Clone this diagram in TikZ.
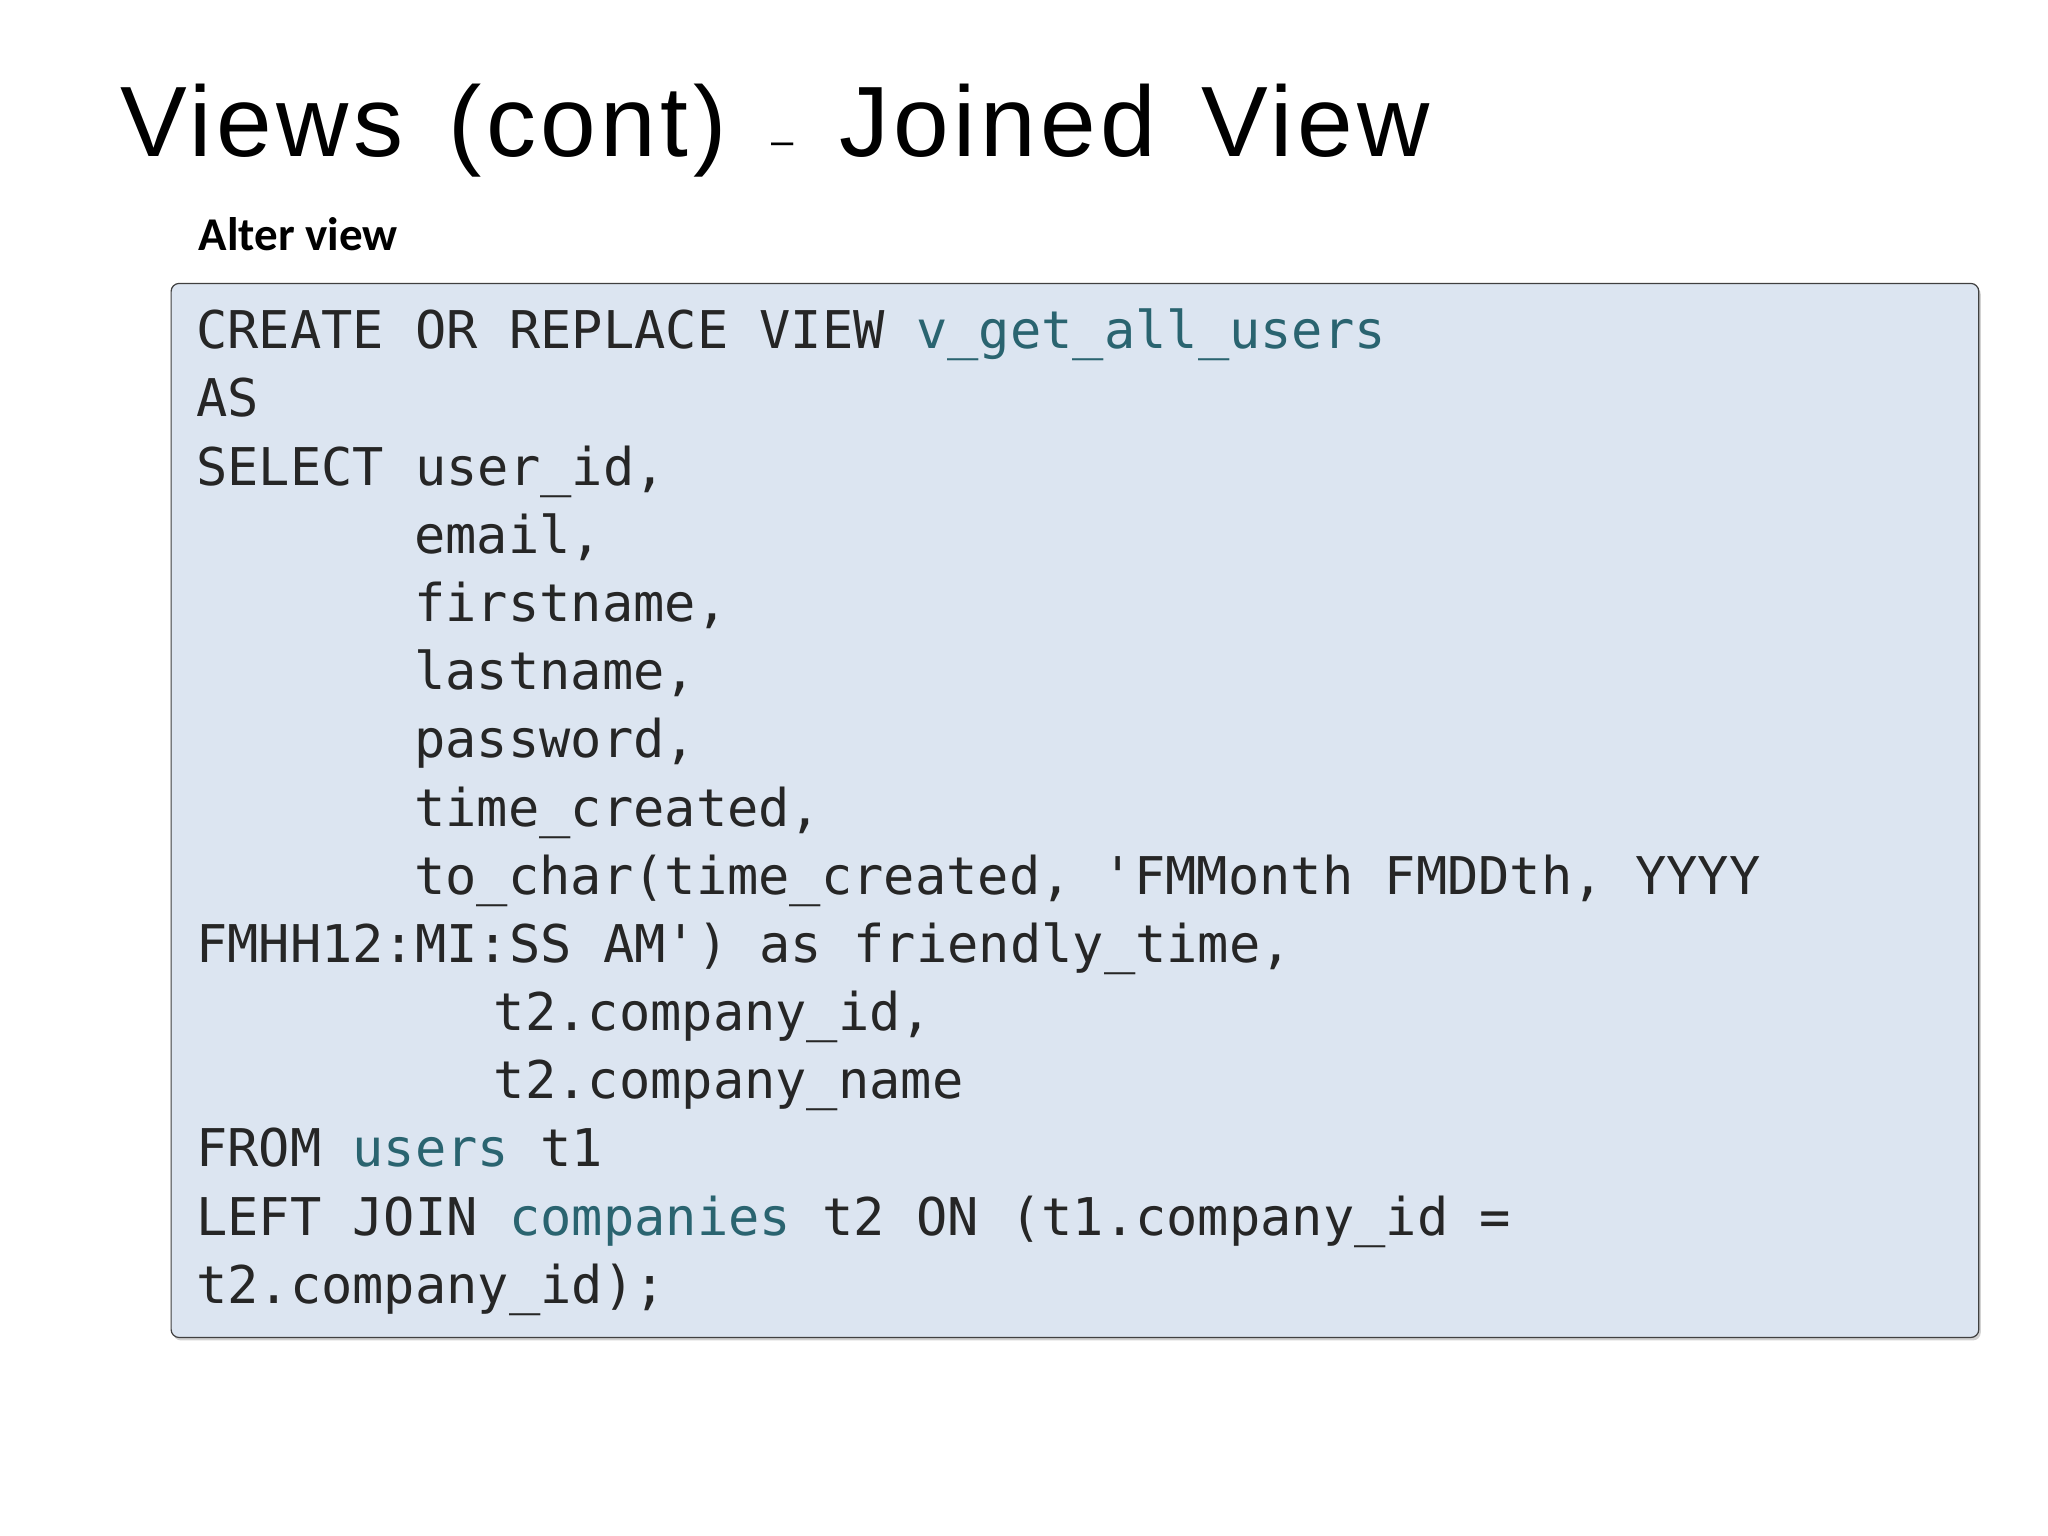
\documentclass[tikz,border=0pt]{standalone}
\usepackage{fontspec}
\setmainfont{Liberation Sans}
\newfontfamily\titlefont[LetterSpace=4.5,WordSpace=1.4]{Liberation Sans}
\newfontfamily\codefont{DejaVu Sans Mono}
\newfontfamily\labfont{Carlito}
\usetikzlibrary{shadows}
\definecolor{boxfill}{HTML}{DCE5F1}
\definecolor{ident}{HTML}{2A6470}
\begin{document}
\begin{tikzpicture}[x=1.306pt,y=-1.306pt,
  code/.style={anchor=base west,inner sep=0pt,font=\codefont\fontsize{52}{60}\selectfont,text=black!85}]
\useasboundingbox[fill=white] (0,0) rectangle (1568,1176);
\node[anchor=base west,inner sep=0pt,font=\titlefont\fontsize{100}{110}\selectfont] (title) at (92,120)
  {Views (cont) {\fontsize{40}{40}\selectfont\raisebox{0.1ex}{–}} Joined View};
\node[anchor=base west,inner sep=0pt,font=\labfont\bfseries\fontsize{47}{52}\selectfont] (lab) at (152,192) {Alter view};
\draw[rounded corners=8pt,fill=boxfill,draw=black!75,line width=1.2pt,drop shadow={shadow xshift=2pt,shadow yshift=-3pt,opacity=0.35}]
  (131,217) rectangle (1515,1024) coordinate (boxc);
\node[code] (l0) at (150,267) {CREATE OR REPLACE VIEW \textcolor{ident}{v\_get\_all\_users}};
\node[code] (l1) at (150,319.2) {AS};
\node[code] (l2) at (150,371.4) {SELECT user\_id,};
\node[code] (l3) at (317,423.6) {email,};
\node[code] (l4) at (317,475.8) {firstname,};
\node[code] (l5) at (317,528) {lastname,};
\node[code] (l6) at (317,580.2) {password,};
\node[code] (l7) at (317,632.4) {time\_created,};
\node[code] (l8) at (317,684.6) {to\_char(time\_created, 'FMMonth FMDDth, YYYY};
\node[code] (l9) at (150,736.8) {FMHH12:MI:SS AM') as friendly\_time,};
\node[code] (l10) at (378,789) {t2.company\_id,};
\node[code] (l11) at (378,841.2) {t2.company\_name};
\node[code] (l12) at (150,893.4) {FROM \textcolor{ident}{users} t1};
\node[code] (l13) at (150,945.6) {LEFT JOIN \textcolor{ident}{companies} t2 ON (t1.company\_id =};
\node[code] (l14) at (150,997.8) {t2.company\_id);};
\end{tikzpicture}
\end{document}
